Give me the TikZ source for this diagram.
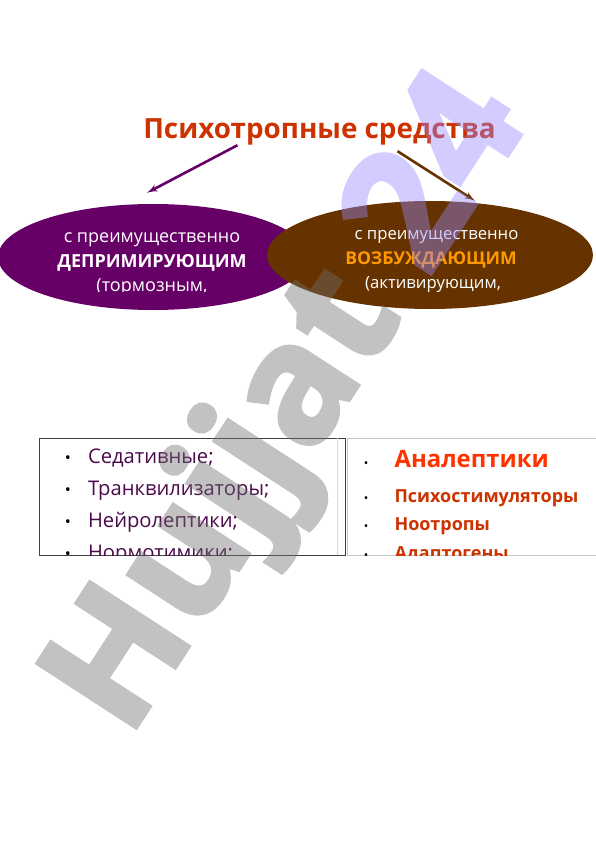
\documentclass[tikz,border=0pt]{standalone}
\usepackage{fontspec}
\setmainfont{Open Sans}
\newfontfamily\wmfont{Open Sans}[BoldFeatures={FakeBold=2.5}]
\usepackage{xcolor}
\usetikzlibrary{arrows}
\usetikzlibrary{shapes.geometric}

\definecolor{titlered}{HTML}{CC3300}
\definecolor{deprpurple}{HTML}{660066}
\definecolor{excbrown}{HTML}{663300}
\definecolor{excorange}{HTML}{FF9900}
\definecolor{listpurple}{HTML}{4A0A4A}
\definecolor{analred}{HTML}{FF3300}
\definecolor{wmgrey}{RGB}{110,110,110}
\definecolor{wmlilac}{RGB}{150,135,255}

\begin{document}
\begin{tikzpicture}[x=1pt, y=-1pt,
	oval/.style={ellipse, inner sep=0pt},
	ovaltext/.style={anchor=base, text=white, font=\fontsize{18}{20}\selectfont},
	lefttext/.style={anchor=base west, text=listpurple, font=\fontsize{20.2}{22}\selectfont},
	leftdot/.style={anchor=base, font=\fontsize{16}{20}\selectfont},
	righttext/.style={anchor=base west, text=titlered, font=\bfseries\fontsize{18}{20}\selectfont},
	rightdot/.style={anchor=base, font=\fontsize{12}{16}\selectfont}]
	\useasboundingbox (0,0) rectangle (596,842);

	\node[anchor=base, text=titlered, font=\bfseries\fontsize{27.8}{30}\selectfont] (title) at (319.5,139) {Психотропные средства};

	\node[oval, fill=deprpurple, minimum width=310pt, minimum height=106pt] (depr) at (153,257) {};
	\node[oval, fill=excbrown, minimum width=326pt, minimum height=108pt] (exc) at (430,255) {};

	\begin{scope}
		\clip (0,200) rectangle (596,291);
		\node[ovaltext] (depr1) at (152,242) {с преимущественно};
		\node[ovaltext, font=\bfseries\fontsize{18}{20}\selectfont] (depr2) at (152,267) {ДЕПРИМИРУЮЩИМ};
		\node[ovaltext] (depr3) at (152,291.5) {(тормозным,};
		\node[ovaltext, font=\fontsize{16.7}{20}\selectfont] (exc1) at (436.5,239) {с преимущественно};
		\node[ovaltext, text=excorange, font=\bfseries\fontsize{17.6}{20}\selectfont] (exc2) at (431,264) {ВОЗБУЖДАЮЩИМ};
		\node[ovaltext, font=\fontsize{16.7}{20}\selectfont] (exc3) at (433,288) {(активирующим,};
	\end{scope}

	\draw[-latex', line width=2.6pt, draw=deprpurple] ([xshift=-82pt,yshift=4pt]title.south) to ([xshift=-6pt,yshift=11pt]depr.north);
	\draw[-latex', line width=2.6pt, draw=excbrown] ([xshift=78pt,yshift=-2pt]title.south) to ([xshift=45pt,yshift=0pt]exc.north);

	% two columns of groups
	\draw[black!75, line width=0.9pt] (39,438) rectangle (345,555);
	\draw[black!15, line width=0.6pt] (337,438) -- (337,555);
	\draw[black!22, line width=0.6pt] (596,438) -- (347,438) -- (347,555) -- (596,555);

	\begin{scope}
		\clip (39,438) rectangle (596,555);
		\node[leftdot] (d1) at (68,463) {•};
		\node[leftdot] (d2) at (68,495) {•};
		\node[leftdot] (d3) at (68,527) {•};
		\node[leftdot] (d4) at (68,559) {•};
		\node[lefttext] (sed) at (84.5,463) {Седативные;};
		\node[lefttext] (tranq) at (84.5,495) {Транквилизаторы;};
		\node[lefttext] (neuro) at (84.5,527) {Нейролептики;};
		\node[lefttext] (normo) at (84.5,559) {Нормотимики;};
		\node[rightdot] (e1) at (366,467) {•};
		\node[rightdot] (e2) at (366,502) {•};
		\node[rightdot] (e3) at (366,530) {•};
		\node[rightdot] (e4) at (366,559) {•};
		\node[righttext, text=analred, font=\bfseries\fontsize{23.9}{26}\selectfont] (anal) at (391,467) {Аналептики};
		\node[righttext] (psych) at (391,502) {Психостимуляторы};
		\node[righttext] (nootr) at (391,530) {Ноотропы};
		\node[righttext] (adapt) at (391,559) {Адаптогены};
	\end{scope}

	% watermark
	\begin{scope}[transparency group, opacity=0.42]
		\node[rotate=57, anchor=base west, inner sep=0pt, text=wmgrey, font=\wmfont\bfseries\fontsize{165}{170}\selectfont] (wm) at (128,740) {Hujjat \textcolor{wmlilac}{24}};
	\end{scope}
\end{tikzpicture}
\end{document}
